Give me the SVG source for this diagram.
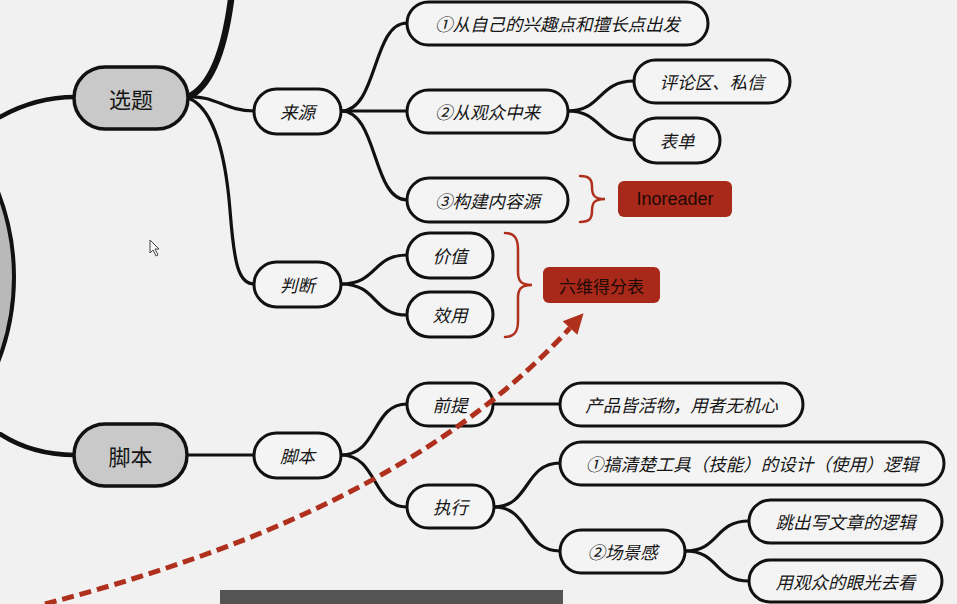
<svg xmlns="http://www.w3.org/2000/svg" width="957" height="604" viewBox="0 0 957 604">
<defs>
<style>
.bg{fill:#f1f1f1}
.main rect{fill:#c9c9c9;stroke:#111;stroke-width:3.5}
.sub rect{fill:#f4f4f4;stroke:#111;stroke-width:3}
.tag rect{fill:#a8281a;stroke:none}
text{font-family:"Noto Sans CJK SC","Noto Sans",sans-serif;fill:#151515;text-anchor:middle;dominant-baseline:central}
.main text{font-size:22px}
.sub text{font-size:17.5px;font-style:italic}
.tag text{font-size:17px;fill:#1c0a06}
.c{fill:none;stroke:#111;stroke-width:3.2;stroke-linecap:round}
.thick{stroke-width:4.5}
.brace{fill:none;stroke:#b0301e;stroke-width:2.5;stroke-linecap:round}
.dash{fill:none;stroke:#b0301e;stroke-width:5;stroke-dasharray:12 6}
</style>
<marker id="ah" markerUnits="userSpaceOnUse" markerWidth="26" markerHeight="26" viewBox="-2 -13 26 26" refX="0" refY="0" orient="auto">
<path d="M0,-10 L20,0 L0,10 Z" fill="#b0301e"/>
</marker>
</defs>
<rect class="bg" x="0" y="0" width="957" height="604"/>

<g id="connectors">
<path class="c thick" d="M0,117 C 25,103 50,97 75,97"/>
<path class="c thick" d="M0,434 C 25,450 50,455 75,455"/>
<path class="c" style="stroke-width:6.5" d="M188,97 C 208,88 223,60 231,0"/>
<path class="c" d="M188,97 C 215,95 225,111 254,111"/>
<path class="c" d="M188,98 C 215,108 226,160 230,210 C 234,262 238,284 254,284"/>
<path class="c" d="M341,111 C 378,111 372,23 407,23"/>
<path class="c" d="M341,111 L407,111"/>
<path class="c" d="M341,111 C 378,111 372,200 407,200"/>
<path class="c" d="M568,111 C 602,111 598,81 634,81"/>
<path class="c" d="M568,111 C 602,111 598,140 634,140"/>
<path class="c" d="M341,284 C 378,284 372,255 407,255"/>
<path class="c" d="M341,284 C 378,284 372,315 407,315"/>
<path class="c" d="M187,455 L254,455"/>
<path class="c" d="M341,455 C 378,455 372,404 407,404"/>
<path class="c" d="M341,455 C 378,455 372,507 407,507"/>
<path class="c" d="M493,404 L560,404"/>
<path class="c" d="M494,507 C 530,507 524,463 560,463"/>
<path class="c" d="M494,507 C 530,507 524,551 560,551"/>
<path class="c" d="M685,551 C 720,551 714,521 749,521"/>
<path class="c" d="M685,551 C 720,551 714,581 749,581"/>
</g>

<g id="root"><ellipse cx="-221" cy="277" rx="235" ry="235" fill="#b9b9b9" stroke="#111" stroke-width="4"/></g>

<g id="n-xuanti" class="main"><rect x="74" y="67" width="114" height="62" rx="31"/><text x="131" y="98">选题</text></g>
<g id="n-jiaoben" class="main"><rect x="74" y="424" width="113" height="62" rx="31"/><text x="130.5" y="455">脚本</text></g>

<g id="n-laiyuan" class="sub"><rect x="254" y="89" width="87" height="45" rx="22.5"/><text x="297.5" y="111.5">来源</text></g>
<g id="n-panduan" class="sub"><rect x="254" y="262" width="87" height="45" rx="22.5"/><text x="297.5" y="284.5">判断</text></g>
<g id="n-jiaoben2" class="sub"><rect x="254" y="433" width="87" height="45" rx="22.5"/><text x="297.5" y="455.5">脚本</text></g>

<g id="n-s1" class="sub"><rect x="407" y="2" width="301" height="43" rx="21.5"/><text x="557.5" y="23.5">①从自己的兴趣点和擅长点出发</text></g>
<g id="n-s2" class="sub"><rect x="407" y="90" width="161" height="43" rx="21.5"/><text x="487.5" y="111.5">②从观众中来</text></g>
<g id="n-s3" class="sub"><rect x="407" y="178" width="161" height="44" rx="22"/><text x="487.5" y="200">③构建内容源</text></g>
<g id="n-pinglun" class="sub"><rect x="634" y="60" width="156" height="43" rx="21.5"/><text x="712" y="81.5">评论区、私信</text></g>
<g id="n-biaodan" class="sub"><rect x="634" y="118" width="86" height="45" rx="22.5"/><text x="677" y="140.5">表单</text></g>
<g id="n-inoreader" class="tag"><rect x="618" y="181" width="114" height="36" rx="6"/><text x="675" y="199" style="font-family:'Liberation Sans','Noto Sans',sans-serif;font-size:18px">Inoreader</text></g>

<g id="n-jiazhi" class="sub"><rect x="407" y="233" width="86" height="45" rx="22.5"/><text x="450" y="255.5">价值</text></g>
<g id="n-xiaoyong" class="sub"><rect x="407" y="292" width="86" height="45" rx="22.5"/><text x="450" y="314.5">效用</text></g>
<g id="n-liuwei" class="tag"><rect x="543" y="267" width="117" height="36" rx="6"/><text x="601.5" y="285">六维得分表</text></g>

<g id="n-qianti" class="sub"><rect x="407" y="383" width="86" height="43" rx="21.5"/><text x="450" y="404.5">前提</text></g>
<g id="n-chanpin" class="sub"><rect x="560" y="383" width="243" height="43" rx="21.5"/><text x="681.5" y="404.5">产品皆活物，用者无机心</text></g>
<g id="n-zhixing" class="sub"><rect x="407" y="485" width="87" height="43" rx="21.5"/><text x="450.5" y="506.5">执行</text></g>
<g id="n-gaoqing" class="sub"><rect x="560" y="442" width="384" height="43" rx="21.5"/><text x="752" y="463.5">①搞清楚工具（技能）的设计（使用）逻辑</text></g>
<g id="n-changjing" class="sub"><rect x="560" y="530" width="125" height="43" rx="21.5"/><text x="622.5" y="551.5">②场景感</text></g>
<g id="n-tiaochu" class="sub"><rect x="749" y="500" width="193" height="43" rx="21.5"/><text x="845.5" y="521.5">跳出写文章的逻辑</text></g>
<g id="n-yongguan" class="sub"><rect x="749" y="560" width="193" height="42" rx="21"/><text x="845.5" y="581">用观众的眼光去看</text></g>

<g id="annotations">
<path class="brace" d="M580,176 C 590,176 592,180 592,187 C 592,195 594,199 605,199 C 594,199 592,203 592,211 C 592,218 590,222 580,222"/>
<path class="brace" d="M505,233 C 515,233 518,239 518,250 L518,272 C 518,281 521,285 532,285 C 521,285 518,289 518,298 L518,321 C 518,331 515,337 505,337"/>
<path class="dash" d="M45,604 C 230,555 430,480 570,328" marker-end="url(#ah)"/>
</g>

<rect x="220" y="590" width="343" height="14" fill="#545454"/>
<path d="M150,240 L150,253 L153,250 L156,256 L158,255 L155,249 L159,249 Z" fill="#fafafa" stroke="#444" stroke-width="1"/>
</svg>
